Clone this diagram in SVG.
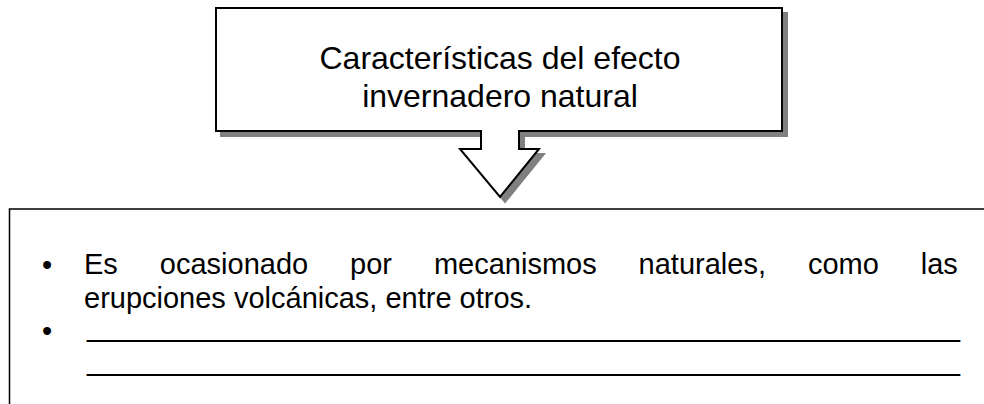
<svg xmlns="http://www.w3.org/2000/svg" width="984" height="404" viewBox="0 0 984 404">
<style>
  .title { font-family: "Liberation Sans", Arial, sans-serif; font-size: 32px; fill: #000; text-anchor: middle; }
  .body { font-family: "Liberation Sans", Arial, sans-serif; font-size: 29px; fill: #000; }
  .callout { fill: #fff; stroke: #000; stroke-width: 2; stroke-linejoin: miter; }
  .shadow { fill: #808080; stroke: #808080; stroke-width: 2; }
  .box { fill: #fff; stroke: #000; stroke-width: 1.5; }
</style>
<defs>
  <path id="calloutShape" d="M216,8 H782 V131 H519 V149 H539 L500,197 L460,149 H481 V131 H216 Z"/>
</defs>
<rect width="984" height="404" fill="#fff"/>
<g id="title-node">
  <use href="#calloutShape" class="shadow" transform="translate(5,5)"/>
  <use href="#calloutShape" class="callout"/>
  <text class="title" x="500" y="69">Características del efecto</text>
  <text class="title" x="500" y="107">invernadero natural</text>
</g>
<g id="content-node">
  <rect class="box" x="9.5" y="209" width="1000" height="220"/>
  <text class="body" x="42" y="275">•</text>
  <text class="body" y="274"><tspan x="84">Es</tspan><tspan x="159.8">ocasionado</tspan><tspan x="350">por</tspan><tspan x="433.9">mecanismos</tspan><tspan x="638.6">naturales,</tspan><tspan x="807.9">como</tspan><tspan x="920.8">las</tspan></text>
  <text class="body" x="84" y="308">erupciones volcánicas, entre otros.</text>
  <text class="body" x="42" y="341">•</text>
  <text class="body" x="87" y="336" textLength="873" lengthAdjust="spacingAndGlyphs">__________________________________________________</text>
  <text class="body" x="87" y="370" textLength="873" lengthAdjust="spacingAndGlyphs">__________________________________________________</text>
</g>
</svg>
